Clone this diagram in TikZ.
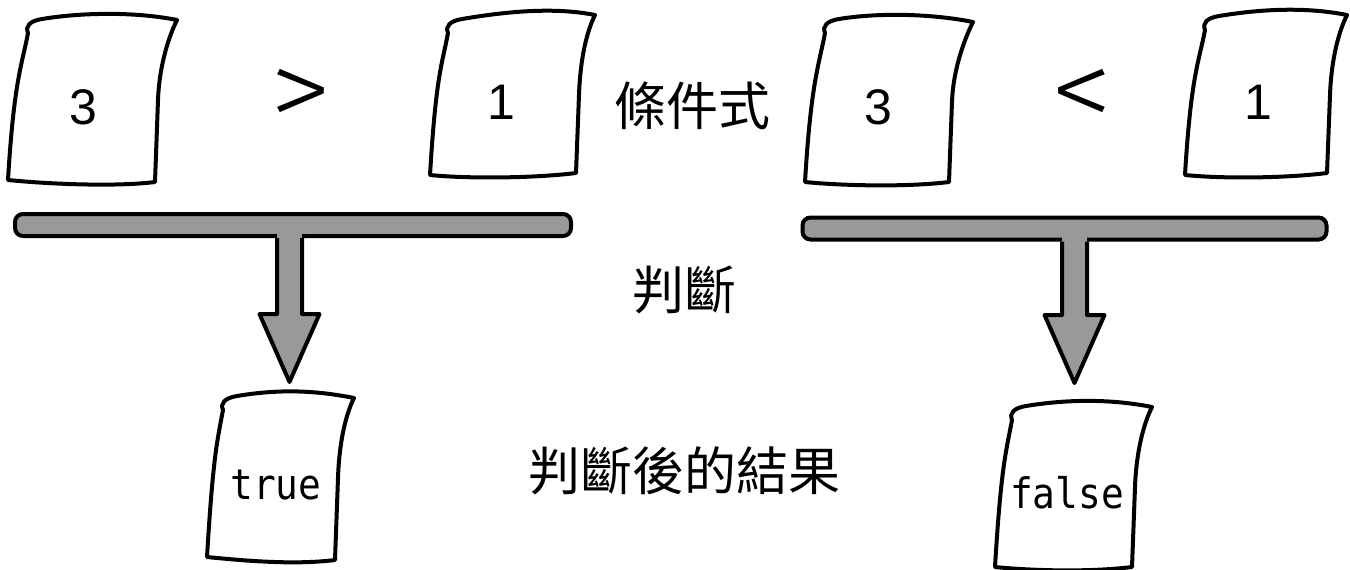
\documentclass[tikz,border=0pt]{standalone}
\usepackage{fontspec}
\usepackage{tikz}
\usetikzlibrary{calc}
\setmainfont{Noto Sans CJK TC}
\newfontfamily\monofnt[FakeStretch=0.9]{DejaVu Sans Mono}
\newfontfamily\digitfnt{Liberation Sans}
\newfontfamily\thinfnt[FakeStretch=1.15]{Fira Sans Light}
\definecolor{bargray}{RGB}{153,153,153}
\tikzset{
    sheet line/.style = {line width = 2pt, line join = round, line cap = round},
    sheet text/.style = {font = \digitfnt\fontsize{25}{25}\selectfont, inner sep = 0pt},
    result text/.style = {font = \monofnt\fontsize{21}{21}\selectfont, inner sep = 0pt},
    relation/.style = {font = \thinfnt\fontsize{55}{55}\selectfont, inner sep = 0pt},
    caption text/.style = {font = \fontsize{26}{26}\selectfont, inner sep = 0pt},
    bar/.style = {draw, line width = 2pt, fill = bargray, rounded corners = 4pt, inner sep = 0pt, minimum height = 11pt},
    block/.style = {line width = 2pt, line join = round, fill = bargray}
}
% sheet outline: top left, top right, bottom right, bottom left
\newcommand{\sheet}[8]{%
    \draw [sheet line] ({#1}, {#2+8}) .. controls ({#1-3}, {#2+1}) and ({#1+2}, {#2-4}) .. ({#1+14}, {#2-6})
        .. controls ({#1+50}, {#2-12}) and ({#3-45}, {#4-9}) .. ({#3}, {#4})
        .. controls ({#3-10}, {#4+20}) and ({#5+4}, {#4+50}) .. ({#5+3}, {#4+80})
        -- ({#5}, {#6})
        .. controls ({#5-40}, {#6+5}) and ({#7+40}, {#8+4}) .. ({#7}, {#8})
        .. controls ({#7+6}, {#8-100}) and ({#1-6}, {#2+40}) .. ({#1}, {#2+8});
}
\newcommand{\blockarrow}[3]{%
    \coordinate (#3) at (#2 |- #1.south);
    \fill [bargray] ($(#3) + (-12.5, -7)$) rectangle ($(#3) + (12.5, 1)$);
    \filldraw [block] ($(#3) + (-12.5, 0)$) -- ($(#2) + (-12.5, -68)$) -- ($(#2) + (-30, -68)$) -- (#2)
        -- ($(#2) + (30, -68)$) -- ($(#2) + (12.5, -68)$) -- ($(#3) + (12.5, 0)$);
}

\begin{document}
\begin{tikzpicture}[x = 0.5pt, y = -0.5pt]
        \useasboundingbox (0, 0) rectangle (1350, 569);
        \sheet{28}{25}{177}{20}{155}{182}{8}{180}
        \sheet{448}{25}{595}{15}{576}{173}{430}{175}
        \sheet{825}{25}{973}{22}{949}{182}{805}{182}
        \sheet{1205}{22}{1347}{15}{1327}{173}{1185}{175}
        \sheet{223}{402}{354}{398}{335}{560}{207}{557}
        \sheet{1012}{412}{1152}{407}{1132}{567}{995}{567}
        \node [sheet text] (lthree) at (83, 107) {3};
        \node [relation] (gt) at (301, 98) {>};
        \node [sheet text] (lone) at (501, 102) {1};
        \node [caption text] (cond) at (692, 106) {條件式};
        \node [sheet text] (rthree) at (878, 107) {3};
        \node [relation] (lt) at (1082, 98) {<};
        \node [sheet text] (rone) at (1258, 102) {1};
        \node [bar, minimum width = 278pt] (lbar) at (293, 225) {};
        \node [bar, minimum width = 262pt] (rbar) at (1064.5, 228.5) {};
        \node [caption text] (judge) at (684, 290) {判斷};
        \node [caption text] (outcome) at (684, 471) {判斷後的結果};
        \node [result text] (true) at (276, 485) {true};
        \node [result text] (false) at (1067, 493) {false};
        \coordinate (ltip) at (289.5, 382);
        \coordinate (rtip) at (1074.5, 383);
        \blockarrow{lbar}{ltip}{lstem}
        \blockarrow{rbar}{rtip}{rstem}
    \end{tikzpicture}
\end{document}
